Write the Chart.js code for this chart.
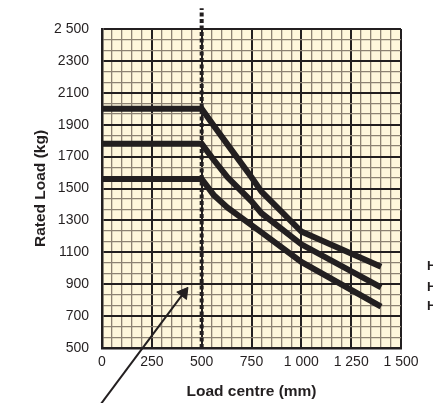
<!DOCTYPE html>
<html>
<head>
<meta charset="utf-8">
<script src="https://cdn.jsdelivr.net/npm/chart.js@4"></script>
<style>
  html, body { margin: 0; padding: 0; background: #fff; }
  #wrap { width: 433px; height: 403px; position: relative; }
</style>
</head>
<body>
<div id="wrap"><canvas id="loadChart"></canvas></div>
<script>
// Load centre (mm) where the curves are read
const loadCentres = [0, 500, 560, 630, 750, 800, 1000, 1400];
// Rated load (kg) for the three curves, top to bottom
const upperLoad = [2000, 2000, 1895, 1775, 1570, 1480, 1230, 1010];
const middleLoad = [1780, 1780, 1680, 1570, 1420, 1345, 1150, 880];
const lowerLoad = [1560, 1560, 1460, 1380, 1270, 1225, 1040, 760];

// dotted marker at 500 mm and the pointer arrow
const markerX = [500, 500];
const markerY = [500, 2630];
const arrowX = [-5, 410];
const arrowY = [150, 845];

const curveNames = ['H', 'H', 'H'];

const xTickLabels = ['0', '250', '500', '750', '1 000', '1 250', '1 500'];
const yTickLabels = ['500', '700', '900', '1100', '1300', '1500', '1700', '1900', '2100', '2300', '2 500'];

const xGrid = [];
for (let v = 0; v <= 1500; v += 50) xGrid.push(v);
const yGrid = [];
for (let i = 0; i <= 30; i++) yGrid.push(500 + i * 200 / 3);

const ink = '#231f20';
const minorLine = '#8d8273';
const paper = '#fff7dc';
const tickFont = { family: "'Liberation Sans Narrow', 'Liberation Sans', sans-serif", size: 14 };
const titleFont = { family: "'Liberation Sans', Arial, sans-serif", size: 15.5, weight: 'bold' };

const toPoints = (xs, ys) => xs.map((x, i) => ({ x: x, y: ys[i] }));

// cream paper behind the plot
const paperFill = {
    id: 'paperFill',
    beforeDraw(chart) {
        const { ctx, chartArea: a } = chart;
        ctx.save();
        ctx.fillStyle = paper;
        ctx.fillRect(a.left, a.top, a.right - a.left, a.bottom - a.top);
        ctx.restore();
    }
};

// names at the end of each curve
const curveLabels = {
    id: 'curveLabels',
    afterDraw(chart) {
        const { ctx } = chart;
        const y = chart.scales.y;
        ctx.save();
        ctx.fillStyle = ink;
        ctx.font = 'bold 13px "Liberation Sans", Arial, sans-serif';
        ctx.textBaseline = 'middle';
        [upperLoad, middleLoad, lowerLoad].forEach((s, i) => {
            ctx.fillText(curveNames[i], 427, y.getPixelForValue(s[s.length - 1]));
        });
        ctx.restore();
    }
};

const curve = (data) => ({
    data: data,
    showLine: true,
    borderColor: ink,
    borderWidth: 6,
    pointRadius: 0,
    fill: false,
    order: 1
});

new Chart(document.getElementById('loadChart').getContext('2d'), {
    type: 'scatter',
    data: {
        datasets: [
            curve(toPoints(loadCentres, upperLoad)),
            curve(toPoints(loadCentres, middleLoad)),
            curve(toPoints(loadCentres, lowerLoad)),
            {
                data: toPoints(markerX, markerY),
                showLine: true,
                borderColor: ink,
                borderWidth: 4,
                borderDash: [4, 2.5],
                pointRadius: 0,
                clip: false,
                order: 2
            },
            {
                data: toPoints(arrowX, arrowY),
                showLine: true,
                borderColor: ink,
                borderWidth: 2,
                pointStyle: 'triangle',
                pointRadius: [0, 7],
                pointRotation: 37,
                pointBackgroundColor: ink,
                pointBorderColor: ink,
                pointBorderWidth: 1,
                clip: false,
                order: 0
            }
        ]
    },
    options: {
        responsive: true,
        maintainAspectRatio: false,
        animation: false,
        layout: { padding: { top: 29, right: 32, left: 0, bottom: 0 } },
        plugins: {
            legend: { display: false },
            tooltip: { enabled: false }
        },
        scales: {
            x: {
                type: 'linear',
                min: 0,
                max: 1500,
                afterBuildTicks: s => { s.ticks = xGrid.map(v => ({ value: v })); },
                afterFit: s => { s.height = 55; },
                border: { display: true, color: ink, width: 2.5 },
                grid: {
                    drawTicks: false,
                    color: c => (c.index % 5 === 0 ? ink : minorLine),
                    lineWidth: c => (c.index % 5 === 0 ? 2 : 1.3)
                },
                ticks: {
                    autoSkip: false,
                    maxRotation: 0,
                    padding: 6,
                    color: ink,
                    font: tickFont,
                    callback: (v, i) => (i % 5 === 0 ? xTickLabels[i / 5] : '')
                },
                title: {
                    display: true,
                    text: 'Load centre (mm)',
                    color: ink,
                    font: titleFont,
                    padding: { top: 0, bottom: 2 }
                }
            },
            y: {
                type: 'linear',
                min: 500,
                max: 2500,
                afterBuildTicks: s => { s.ticks = yGrid.map(v => ({ value: v })); },
                afterFit: s => { s.width = 102; },
                border: { display: true, color: ink, width: 2.5 },
                grid: {
                    drawTicks: false,
                    color: c => (c.index % 3 === 0 ? ink : minorLine),
                    lineWidth: c => (c.index % 3 === 0 ? 2 : 1.3)
                },
                ticks: {
                    autoSkip: false,
                    padding: 13,
                    color: ink,
                    font: tickFont,
                    callback: (v, i) => (i % 3 === 0 ? yTickLabels[i / 3] : '')
                },
                title: {
                    display: true,
                    text: 'Rated Load (kg)',
                    color: ink,
                    font: titleFont,
                    padding: { top: 31, bottom: 0 }
                }
            }
        }
    },
    plugins: [paperFill, curveLabels]
});
</script>
</body>
</html>
